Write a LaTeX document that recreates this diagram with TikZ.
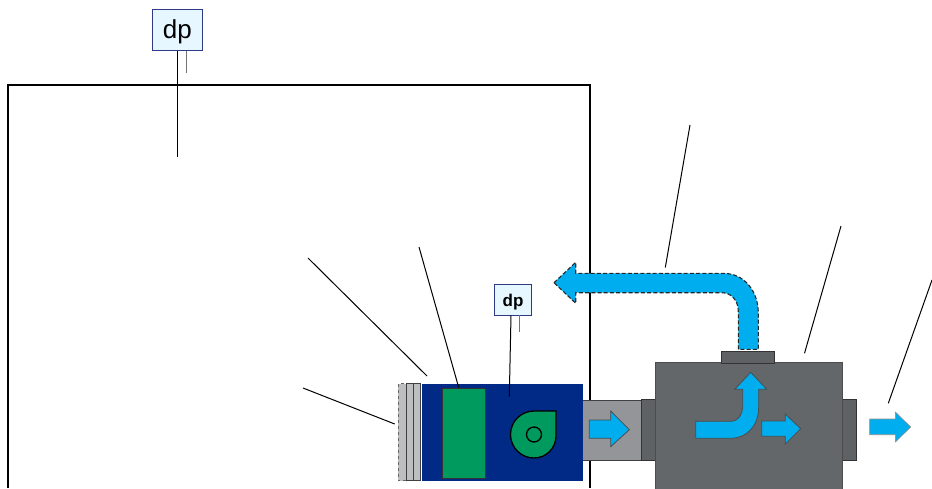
\documentclass[tikz,border=0pt]{standalone}
\usepackage{fontspec}
\setmainfont{Liberation Sans}
\definecolor{airblue}{HTML}{00AEEF}
\definecolor{unitblue}{HTML}{002A85}
\definecolor{coilgreen}{HTML}{009A5E}
\definecolor{boxgray}{HTML}{63676A}
\definecolor{ductgray}{HTML}{939598}
\definecolor{filtgray}{HTML}{BCBEC0}
\definecolor{dpfill}{HTML}{E6F7FF}
\definecolor{dpedge}{HTML}{2E3A87}
\tikzset{
  x=1pt,y=-1pt,
  leader/.style={draw=black,line width=1pt},
  tick/.style={draw=black!55,line width=1pt},
  dpbox/.style={draw=dpedge,fill=dpfill,line width=1pt,inner sep=0pt,align=center},
  housing/.style={draw=black!70,fill=boxgray,line width=1pt},
  flange/.style={draw=black!80,fill=boxgray!95!black,line width=1pt},
  filt/.style={draw=black!75,fill=filtgray,line width=1pt},
  airarrow/.style={fill=airblue,draw=black!70,line width=.8pt,line join=miter},
  airdash/.style={fill=airblue,draw=black!85,line width=1.1pt,dash pattern=on 4pt off 2.2pt},
}
\begin{document}
\begin{tikzpicture}
\useasboundingbox (0,0) rectangle (932,488);
% room
\draw[black,line width=1.3pt] (8,488) -- (8,85) -- (590,85) -- (590,488);
% dp top
\node[dpbox,minimum width=50pt,minimum height=41.5pt,font=\fontsize{26}{26}\selectfont] (dpA) at (177.3,30) {\raisebox{-8.5pt}[0pt][0pt]{dp}};
\coordinate (dpAend) at (177.3,157);
\coordinate (dpAtickS) at (186.7,50.7);
\coordinate (dpAtickE) at (186.7,73);
\draw[leader] (dpA.south) -- (dpAend);
\draw[tick] (dpAtickS) -- (dpAtickE);
% unit
\node[draw=none,fill=ductgray,minimum width=60pt,minimum height=60.7pt,inner sep=0pt] (duct) at (612,430.3) {};
\draw[black!75,line width=1pt] (641.7,400) -- (582.7,400) -- (582.7,460.7) -- (641.7,460.7);
\fill[unitblue] (422,384) rectangle (583.3,481.3);
\draw[black!60,line width=1pt,dashed,fill=filtgray] (398.3,383.5) rectangle (406,480.7);
\draw[filt] (406,383.5) rectangle (413.3,480.7);
\draw[filt] (413.3,383.5) rectangle (420.7,480.7);
\node[draw=black!80,fill=coilgreen,line width=1pt,minimum width=42.6pt,minimum height=90pt,inner sep=0pt] (coil) at (464,433.7) {};
\draw[black,fill=coilgreen,line width=1.3pt] (556,411) -- (534,411) arc[start angle=270,end angle=90,radius=23.5] arc[start angle=90,end angle=0,radius=22] -- cycle;
\draw[black,line width=1.3pt] (534,434.5) circle[radius=7.5];
\draw[airarrow] (589.3,420) -- (610.7,420) -- (610.7,411) -- (629.3,429.7) -- (610.7,446.7) -- (610.7,438.3) -- (589.3,438.3) -- cycle;
% leaders to unit
\coordinate (la1) at (419,247); \coordinate (la2) at (458.7,387.5);
\coordinate (lb1) at (308,258); \coordinate (lb2) at (427,376);
\coordinate (lc1) at (303,388); \coordinate (lc2) at (394.7,424);
\draw[leader] (la1) -- (la2);
\draw[leader] (lb1) -- (lb2);
\draw[leader] (lc1) -- (lc2);
% dp small
\node[dpbox,minimum width=37.4pt,minimum height=31pt,font=\bfseries\fontsize{17}{17}\selectfont] (dpB) at (513,299.8) {\raisebox{-6.5pt}[0pt][0pt]{dp}};
\coordinate (dpBend) at (509.3,396.7);
\coordinate (dpBs) at (511,315.3);
\coordinate (dpBtickS) at (519.7,315.3);
\coordinate (dpBtickE) at (519.7,332.3);
\draw[leader] (dpBs) -- (dpBend);
\draw[tick] (dpBtickS) -- (dpBtickE);
% main box
\draw[flange] (641.7,399.3) rectangle (655.7,460.7);
\draw[flange] (842.7,399.3) rectangle (856,460.7);
\draw[housing] (655.7,488.5) -- (655.7,362.7) -- (842.7,362.7) -- (842.7,488.5);
\draw[flange] (721.7,351.5) rectangle (774,363);
% supply arrow dashed
\draw[airdash] (554,282.7) -- (575.7,262.3) -- (575.7,273.3) -- (723.3,273.3)
  .. controls (745,273.3) and (758.3,292) .. (758.3,313) -- (758.3,349.3) -- (738.3,349.3) -- (738.3,311.7)
  .. controls (738.3,300) and (731,292.7) .. (721.7,292.7) -- (575.7,292.7) -- (575.7,303.3) -- cycle;
% curved arrow
\draw[airarrow] (695.7,421.3) -- (731.7,421.3) .. controls (738,421.3) and (742.7,414) .. (742.7,406.7)
  -- (742.7,389.3) -- (734.7,389.3) -- (750.7,372.3) -- (766.7,389.3) -- (758.7,389.3) -- (758.7,406.7)
  .. controls (758.7,425) and (748,438.3) .. (730,438.3) -- (695.7,438.3) -- cycle;
\draw[airarrow] (761.7,421) -- (785.3,421) -- (785.3,414) -- (800.7,428.7) -- (785.3,444) -- (785.3,436.3) -- (761.7,436.3) -- cycle;
\fill[airblue,draw=black!45,line width=.6pt] (869.7,419) -- (895.3,419) -- (895.3,412) -- (910.7,427) -- (895.3,442) -- (895.3,434.7) -- (869.7,434.7) -- cycle;
% leaders right
\coordinate (ld1) at (690,125); \coordinate (ld2) at (665.3,267.5);
\coordinate (le1) at (841,226); \coordinate (le2) at (804.5,353.3);
\coordinate (lf1) at (932,280); \coordinate (lf2) at (888.3,403.3);
\draw[leader] (ld1) -- (ld2);
\draw[leader] (le1) -- (le2);
\draw[leader] (lf1) -- (lf2);
\end{tikzpicture}
\end{document}
